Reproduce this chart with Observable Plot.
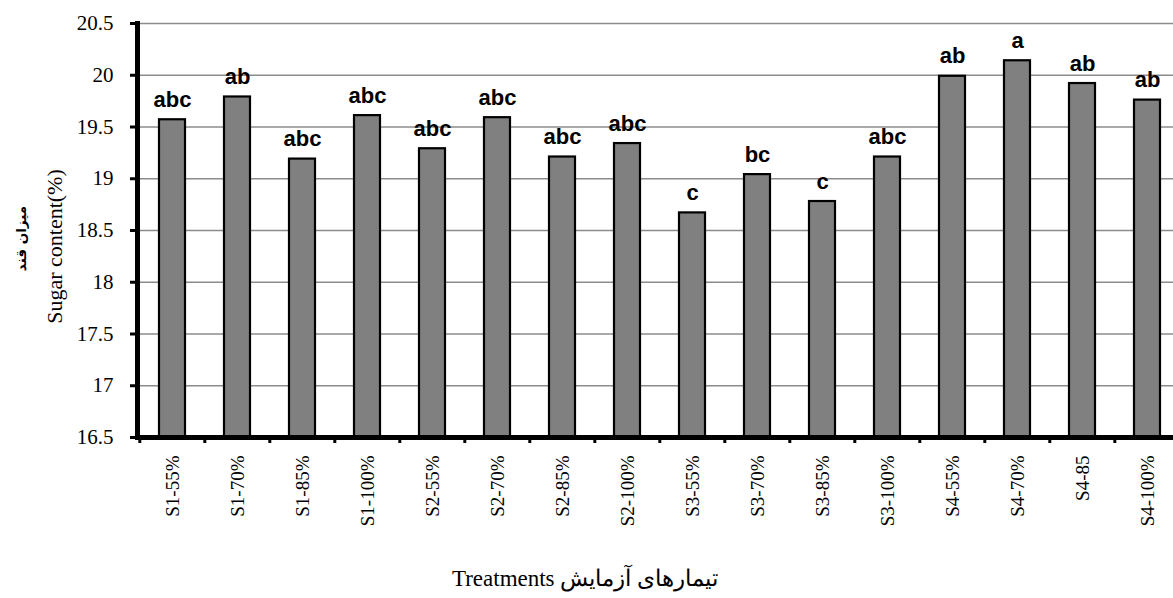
<!DOCTYPE html>
<html><head><meta charset="utf-8">
<script src="https://cdn.jsdelivr.net/npm/d3@7"></script>
<script src="https://cdn.jsdelivr.net/npm/@observablehq/plot@0.6"></script>
<style>body{margin:0;background:#fff}</style>
</head><body><div id="chart"></div>
<script>
const treatments = ["S1-55%","S1-70%","S1-85%","S1-100%","S2-55%","S2-70%","S2-85%","S2-100%","S3-55%","S3-70%","S3-85%","S3-100%","S4-55%","S4-70%","S4-85","S4-100%"];
const sugar = [19.57,19.79,19.19,19.61,19.29,19.59,19.21,19.34,18.67,19.04,18.78,19.21,19.99,20.14,19.92,19.76];
const letters = ["abc","ab","abc","abc","abc","abc","abc","abc","c","bc","c","abc","ab","a","ab","ab"];
const yTicks = [16.5,17,17.5,18,18.5,19,19.5,20,20.5];
const yLabelEn = "Sugar content(%)";
const yLabelFa = "میزان قند";
const xTitle = "تیمارهای آزمایش Treatments";

const serif = "'Liberation Serif', 'Times New Roman', serif";
const data = treatments.map((t, i) => ({t, v: sugar[i], l: letters[i]}));
const width = 1173, height = 598, mL = 137, mR = -9, mT = 23, mB = 161;
const pInner = 0.6, pOuter = 0.29;
const step = (width - mL - mR) / (treatments.length - pInner + 2 * pOuter);

const chart = Plot.plot({
  width, height, marginLeft: mL, marginRight: mR, marginTop: mT, marginBottom: mB,
  style: {fontFamily: serif, background: "#fff", color: "#000"},
  x: {domain: treatments, paddingInner: pInner, paddingOuter: pOuter, label: null},
  y: {domain: [16.5, 20.5], label: null},
  marks: [
    Plot.gridY(yTicks, {stroke: "#8c8c8c", strokeOpacity: 1, strokeWidth: 1.3}),
    Plot.barY(data, {x: "t", y1: 16.5, y2: "v", fill: "#808080", stroke: "#000", strokeWidth: 2.2}),
    Plot.text(data, {x: "t", y: "v", text: "l", dy: -13, lineAnchor: "bottom", fontFamily: "'Liberation Sans', Arial, sans-serif", fontWeight: "bold", fontSize: 22, fill: "#000"}),
    Plot.ruleX(treatments, {x: d => d, y1: 16.5, y2: 16.5, dx: -step / 2, insetBottom: -6, strokeWidth: 3}),
    Plot.ruleY([16.5], {strokeWidth: 5}),
    Plot.frame({anchor: "left", strokeWidth: 5}),
    Plot.axisY(yTicks, {tickSize: 7, tickPadding: 17, strokeWidth: 3, fontSize: 21, fontFamily: serif, fontVariant: "normal", tickFormat: d => String(d)}),
    Plot.axisX({tickSize: 0, tickPadding: 18, tickRotate: -90, fontSize: 19, fontFamily: serif, label: null}),
    Plot.text([yLabelEn], {frameAnchor: "left", textAnchor: "middle", dx: -83, dy: 16, rotate: -90, fontSize: 22, fontFamily: serif, fill: "#000"}),
    Plot.text([yLabelFa], {frameAnchor: "left", textAnchor: "middle", dx: -116, dy: 8, rotate: -90, fontSize: 13.5, fontWeight: "bold", fontFamily: "'DejaVu Sans', sans-serif", fill: "#000"}),
    Plot.text(["\u202B" + xTitle + "\u202C"], {frameAnchor: "bottom", dx: -75, dy: 148, fontSize: 23, fontFamily: serif, fill: "#000"})
  ]
});
document.getElementById("chart").appendChild(chart);
</script>
</body></html>
